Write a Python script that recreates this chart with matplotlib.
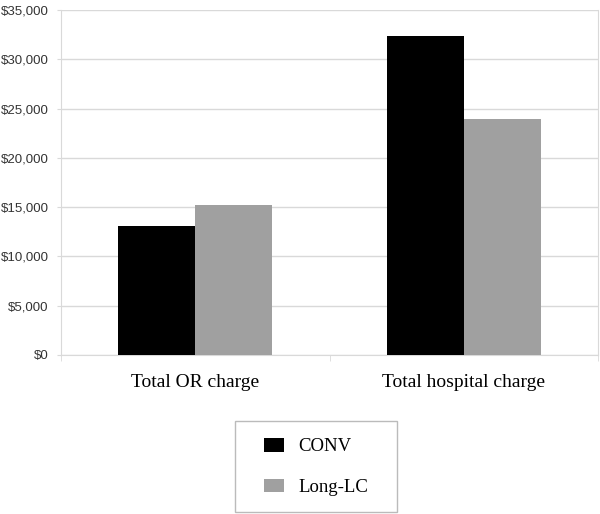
import matplotlib
matplotlib.use("Agg")
import matplotlib.pyplot as plt
import numpy as np
from matplotlib.ticker import FuncFormatter, FixedLocator
from matplotlib.patches import Rectangle

categories = ["Total OR charge", "Total hospital charge"]
series_names = ["CONV", "Long-LC"]
conv = [13100, 32400]
long_lc = [15200, 23900]
colors = ["#000000", "#a0a0a0"]

W, H = 600, 514
fig = plt.figure(figsize=(W / 100, H / 100), dpi=100)
ax = fig.add_axes([61 / W, 1 - 355 / H, 537 / W, 345 / H])

x = np.arange(len(categories))
w = 0.287
b1 = ax.bar(x - w / 2, conv, w, color=colors[0], label=series_names[0], zorder=3)
b2 = ax.bar(x + w / 2, long_lc, w, color=colors[1], label=series_names[1], zorder=3)

ax.set_xlim(-0.5, 1.5)
ax.set_ylim(0, 35000)
ax.set_yticks(np.arange(0, 35001, 5000))
ax.yaxis.set_major_formatter(FuncFormatter(lambda v, p: f"${int(v):,}"))
ax.grid(axis="y", color="#d9d9d9", linewidth=1.0, zorder=0)
ax.set_xticks(x)
ax.set_xticklabels(categories, fontfamily="Liberation Serif", fontsize=14)
ax.xaxis.set_minor_locator(FixedLocator([-0.5, 0.5, 1.5]))
ax.tick_params(axis="x", which="major", length=0, pad=14)
ax.tick_params(axis="x", which="minor", length=4, color="#d9d9d9")
ax.tick_params(axis="y", length=3, color="#d9d9d9", labelsize=9.5, pad=6)
for lab in ax.get_yticklabels():
    lab.set_fontfamily("Liberation Sans")
    lab.set_color("#333333")
ax.spines["top"].set_visible(False)
for s in ["left", "right", "bottom"]:
    ax.spines[s].set_color("#d9d9d9")

# legend frame
fig.patches.append(Rectangle((235 / W, 1 - 512 / H), 162 / W, 91 / H,
                             transform=fig.transFigure, fill=False,
                             edgecolor="#bbbbbb", linewidth=1.0))
leg = fig.legend(handles=[b1, b2], loc="center", bbox_to_anchor=(316 / W, 1 - 467 / H),
                 frameon=False, prop={"family": "Liberation Serif", "size": 13.5},
                 handlelength=1.07, handleheight=0.75, borderpad=0.5, labelspacing=1.25,
                 handletextpad=0.75, borderaxespad=0)

fig.savefig("out.png", dpi=100)
